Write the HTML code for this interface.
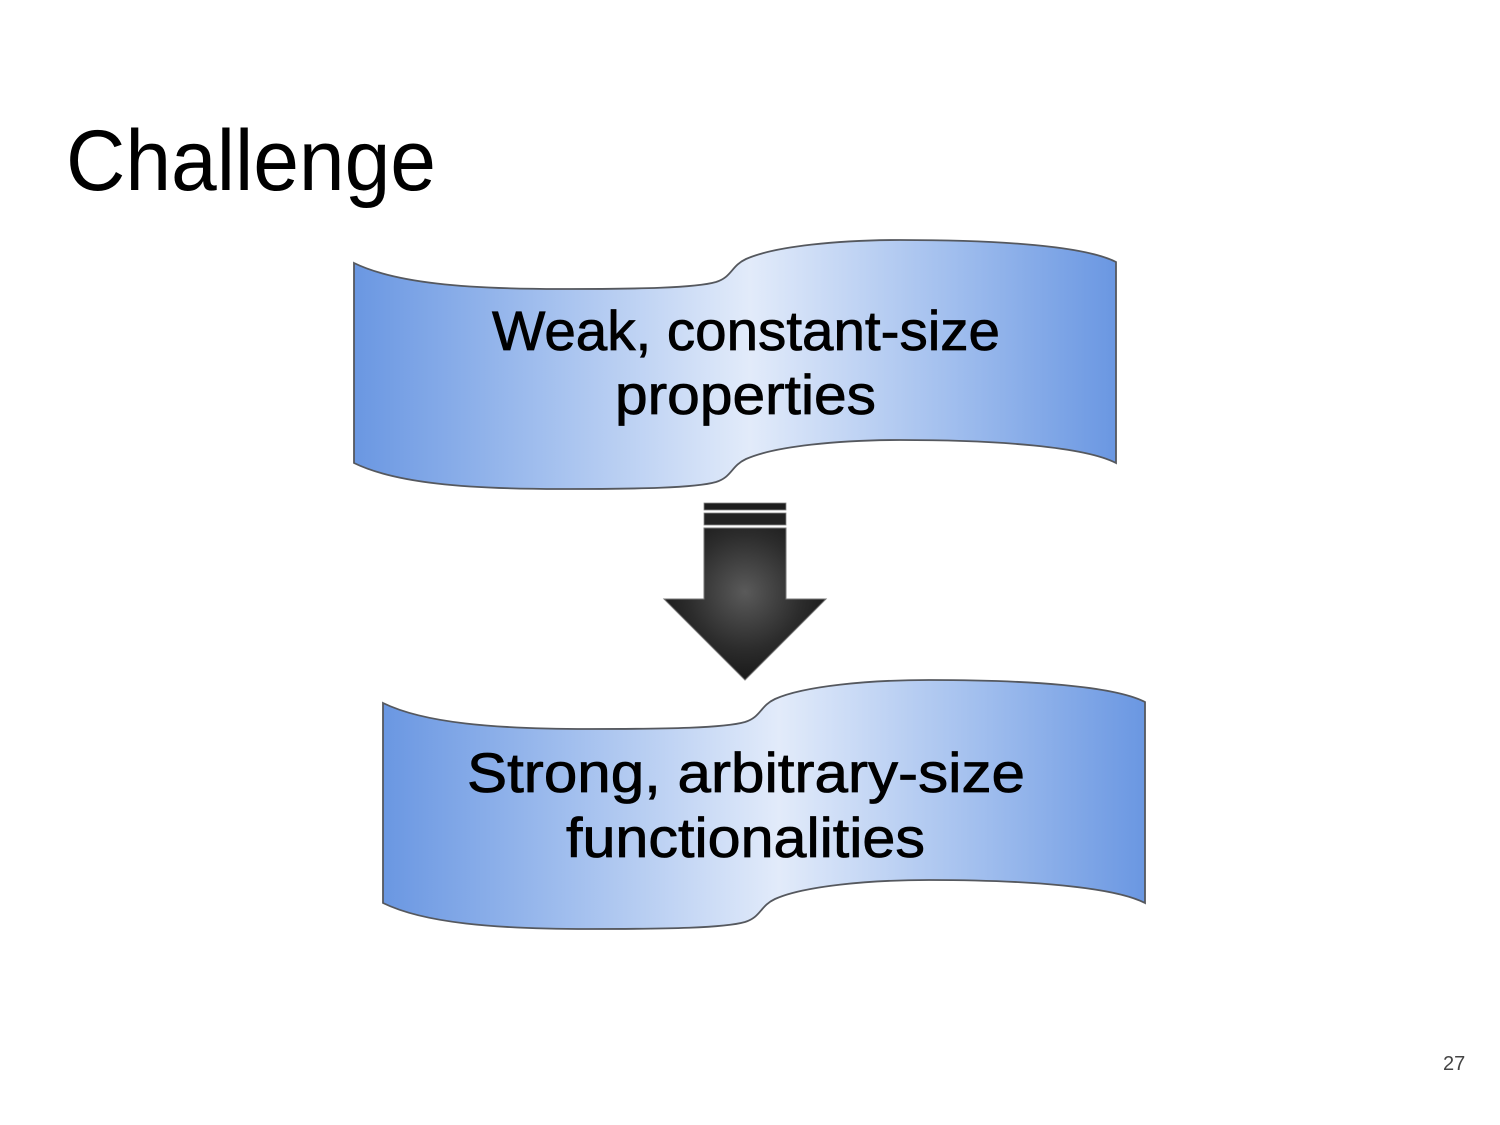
<!DOCTYPE html>
<html>
<head>
<meta charset="utf-8">
<style>
  html, body { margin: 0; padding: 0; background: #ffffff; }
  body { width: 1500px; height: 1125px; overflow: hidden; }
  svg { display: block; }
</style>
</head>
<body>
<svg width="1500" height="1125" viewBox="0 0 1500 1125" xmlns="http://www.w3.org/2000/svg">
  <defs>
    <linearGradient id="bg1" gradientUnits="userSpaceOnUse" x1="354" y1="0" x2="1116" y2="0">
      <stop offset="0" stop-color="#6a97e2"/>
      <stop offset="0.25" stop-color="#a2bfee"/>
      <stop offset="0.52" stop-color="#e2ebfa"/>
      <stop offset="0.78" stop-color="#a2bfee"/>
      <stop offset="1" stop-color="#6a97e2"/>
    </linearGradient>
    <radialGradient id="arrowG" gradientUnits="userSpaceOnUse" cx="745" cy="592" r="95">
      <stop offset="0" stop-color="#5a5a5a"/>
      <stop offset="0.6" stop-color="#2c2c2c"/>
      <stop offset="1" stop-color="#151515"/>
    </radialGradient>
  </defs>

  <!-- Title -->
  <text x="66" y="190" font-family="Liberation Sans, Arial, sans-serif" font-size="86" fill="#000" textLength="370" lengthAdjust="spacingAndGlyphs">Challenge</text>

  <!-- Banner 1 -->
  <g>
    <path id="ban" d="M354,263 C395,283 465,289 560,289 C640,289 695,288 716,282 C732,277 731,266 746,259 C775,246 840,240 900,240 C1000,240 1085,246 1116,262 L1116,463 C1085,447 1000,440 900,440 C840,440 775,446 746,459 C731,466 732,477 716,482 C695,488 640,489 560,489 C465,489 395,483 354,463 Z"
          fill="url(#bg1)" stroke="#55585e" stroke-width="1.8"/>
    <text x="492" y="350" font-family="Liberation Sans, sans-serif" font-size="56" fill="#000" stroke="#000" stroke-width="0.8" textLength="508" lengthAdjust="spacingAndGlyphs">Weak, constant-size</text>
    <text x="615" y="414" font-family="Liberation Sans, sans-serif" font-size="56" fill="#000" stroke="#000" stroke-width="0.8" textLength="261" lengthAdjust="spacingAndGlyphs">properties</text>
  </g>

  <!-- Arrow -->
  <g>
    <rect x="704" y="503" width="82" height="7" fill="#1e1e1e" stroke="#888" stroke-width="0.8"/>
    <rect x="704" y="513" width="82" height="12" fill="#232323" stroke="#888" stroke-width="0.8"/>
    <path d="M704,528 L786,528 L786,599 L826,599 L745,680 L664,599 L704,599 Z" fill="url(#arrowG)" stroke="#777" stroke-width="1"/>
  </g>

  <!-- Banner 2 -->
  <g transform="translate(29,440)">
    <path d="M354,263 C395,283 465,289 560,289 C640,289 695,288 716,282 C732,277 731,266 746,259 C775,246 840,240 900,240 C1000,240 1085,246 1116,262 L1116,463 C1085,447 1000,440 900,440 C840,440 775,446 746,459 C731,466 732,477 716,482 C695,488 640,489 560,489 C465,489 395,483 354,463 Z"
          fill="url(#bg1)" stroke="#55585e" stroke-width="1.8"/>
  </g>
  <text x="467" y="792" font-family="Liberation Sans, sans-serif" font-size="56" fill="#000" stroke="#000" stroke-width="0.8" textLength="558" lengthAdjust="spacingAndGlyphs">Strong, arbitrary-size</text>
  <text x="566" y="857" font-family="Liberation Sans, sans-serif" font-size="56" fill="#000" stroke="#000" stroke-width="0.8" textLength="359" lengthAdjust="spacingAndGlyphs">functionalities</text>

  <!-- Page number -->
  <text x="1443" y="1070" font-family="Liberation Sans, Arial, sans-serif" font-size="20" fill="#444">27</text>
</svg>
</body>
</html>
